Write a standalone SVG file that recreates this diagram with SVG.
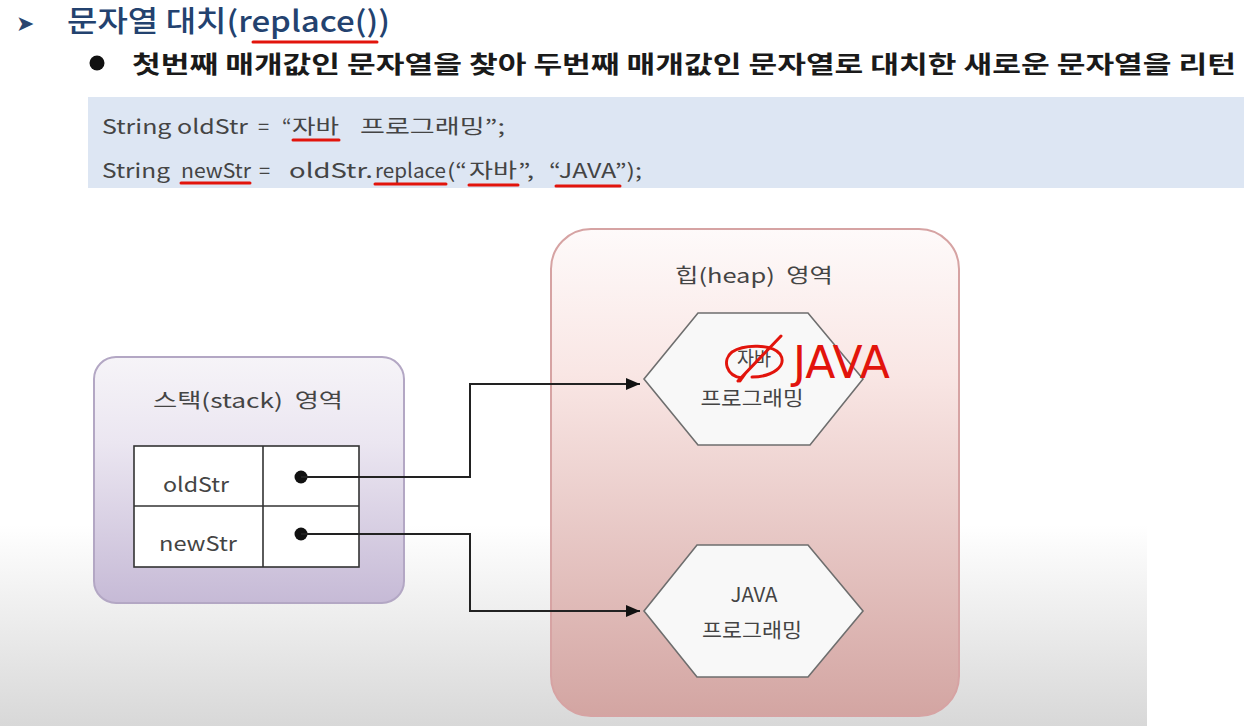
<svg xmlns="http://www.w3.org/2000/svg" width="1244" height="726" viewBox="0 0 1244 726">
<style>
.k{font-family:"Noto Sans CJK KR","Noto Sans",sans-serif}
.code{font-family:"Noto Sans CJK KR","Open Sans",sans-serif;font-size:20px;fill:#444;white-space:pre}
.lbl{font-family:"Noto Sans CJK KR","Open Sans",sans-serif;font-size:20px;fill:#444;text-anchor:middle;white-space:pre}
.red{stroke:#e2140c;stroke-width:3;fill:none;stroke-linecap:round}
.hex{fill:#f8f8f8;stroke:#6e6e6e;stroke-width:1.6}
.conn{fill:none;stroke:#222;stroke-width:2}
</style>
<defs>
<linearGradient id="bg" x1="0" y1="0" x2="0" y2="1">
<stop offset="0" stop-color="#ffffff"/><stop offset="1" stop-color="#d8d8d8"/>
</linearGradient>
<linearGradient id="stk" x1="0" y1="0" x2="0" y2="1">
<stop offset="0" stop-color="#f6f4f8"/><stop offset="0.35" stop-color="#ebe6f1"/><stop offset="1" stop-color="#c6bad6"/>
</linearGradient>
<linearGradient id="hp" x1="0" y1="0" x2="0" y2="1">
<stop offset="0" stop-color="#fefafa"/><stop offset="0.3" stop-color="#f9e6e4"/><stop offset="1" stop-color="#d3a5a2"/>
</linearGradient>
<marker id="arr" markerWidth="14" markerHeight="12" refX="14" refY="6" orient="auto" markerUnits="userSpaceOnUse">
<path d="M0,0 L14,6 L0,12 z" fill="#111"/>
</marker>
</defs>
<rect x="0" y="0" width="1244" height="726" fill="#fff"/>
<rect x="0" y="525" width="1147" height="201" fill="url(#bg)"/>

<g id="title">
<text x="16" y="31" class="k" font-size="22" fill="#2a4670">➤</text>
<text x="67" y="32" class="k" font-size="29" font-weight="500" fill="#23426f" textLength="323" lengthAdjust="spacingAndGlyphs">문자열 대치(replace())</text>
<path class="red" d="M253,42 L377,42"/>
</g>
<g id="bullet">
<circle cx="97" cy="63" r="7.5" fill="#111"/>
<text x="132" y="73" class="k" font-size="24" font-weight="bold" fill="#1a1a1a" textLength="1104" lengthAdjust="spacingAndGlyphs">첫번째 매개값인 문자열을 찾아 두번째 매개값인 문자열로 대치한 새로운 문자열을 리턴</text>
</g>
<g id="code">
<rect x="88" y="97" width="1156" height="91" fill="#dde6f3"/>
<text x="102" y="134" class="code" textLength="146" lengthAdjust="spacingAndGlyphs">String oldStr</text>
<text x="258" y="134" class="code">=</text>
<text x="282" y="134" class="code">“</text>
<text x="292" y="134" class="code" textLength="47" lengthAdjust="spacingAndGlyphs">자바</text>
<text x="360" y="134" class="code" textLength="145" lengthAdjust="spacingAndGlyphs">프로그래밍”;</text>
<text x="102" y="178" class="code" textLength="68" lengthAdjust="spacingAndGlyphs">String</text>
<text x="181" y="178" class="code" textLength="70" lengthAdjust="spacingAndGlyphs">newStr</text>
<text x="259" y="178" class="code">=</text>
<text x="289" y="178" class="code" textLength="84" lengthAdjust="spacingAndGlyphs">oldStr.</text>
<text x="375" y="178" class="code" textLength="71" lengthAdjust="spacingAndGlyphs">replace</text>
<text x="447" y="178" class="code" textLength="20" lengthAdjust="spacingAndGlyphs">(“</text>
<text x="469" y="178" class="code" textLength="48" lengthAdjust="spacingAndGlyphs">자바</text>
<text x="518" y="178" class="code" textLength="16" lengthAdjust="spacingAndGlyphs">”,</text>
<text x="549" y="178" class="code" textLength="93" lengthAdjust="spacingAndGlyphs">“JAVA”);</text>
<path class="red" d="M293,140 L339,140"/>
<path class="red" d="M181,183 L250,183"/>
<path class="red" d="M375,184 L446,184"/>
<path class="red" d="M469,185 L518,185"/>
<path class="red" d="M556,186 L620,186"/>
</g>

<g id="stack">
<rect x="94" y="357" width="310" height="246" rx="22" fill="url(#stk)" stroke="#b3a7c4" stroke-width="2"/>
<text x="248" y="408" class="lbl" font-size="21" textLength="190" lengthAdjust="spacingAndGlyphs">스택(stack)  영역</text>
<rect x="134" y="446" width="225" height="121" fill="#fff" stroke="#333" stroke-width="1.6"/>
<line x1="134" y1="506" x2="359" y2="506" stroke="#333" stroke-width="1.6"/>
<line x1="263" y1="446" x2="263" y2="567" stroke="#333" stroke-width="1.6"/>
<text x="196" y="492" class="lbl" textLength="66" lengthAdjust="spacingAndGlyphs">oldStr</text>
<text x="198" y="551" class="lbl" textLength="78" lengthAdjust="spacingAndGlyphs">newStr</text>
<circle cx="301" cy="477" r="6.5" fill="#111"/>
<circle cx="301" cy="534" r="6.5" fill="#111"/>
</g>

<g id="heap">
<rect x="551" y="229" width="408" height="487" rx="40" fill="url(#hp)" stroke="#d6a3a3" stroke-width="2"/>
<text x="754" y="283" class="lbl" font-size="21" textLength="158" lengthAdjust="spacingAndGlyphs">힙(heap)  영역</text>
</g>

<g id="str1">
<polygon class="hex" points="644,379 698,313 808,313 863,379 810,445 698,445"/>
<text x="754" y="366" class="lbl" font-size="14" textLength="34" lengthAdjust="spacingAndGlyphs">자바</text>
<text x="752" y="406" class="lbl" textLength="103" lengthAdjust="spacingAndGlyphs">프로그래밍</text>
<path class="red" d="M742,378 C726,376 722,360 732,352 C744,344 772,344 780,354 C788,366 772,377 752,377 M740,381 L745,374 M738,381 L781,336"/>
<text x="793" y="378" font-family="DejaVu Sans,sans-serif" font-size="44" fill="#e2140c" textLength="97" lengthAdjust="spacingAndGlyphs">JAVA</text>
</g>

<g id="str2">
<polygon class="hex" points="644,611 697,545 808,545 863,611 808,677 697,677"/>
<text x="754" y="602" class="lbl" font-size="18" textLength="47" lengthAdjust="spacingAndGlyphs">JAVA</text>
<text x="752" y="638" class="lbl" textLength="100" lengthAdjust="spacingAndGlyphs">프로그래밍</text>
</g>

<g id="connectors">
<path class="conn" d="M301,477 L470,477 L470,384 L640,384" marker-end="url(#arr)"/>
<path class="conn" d="M301,534 L470,534 L470,611 L640,611" marker-end="url(#arr)"/>
</g>
</svg>
